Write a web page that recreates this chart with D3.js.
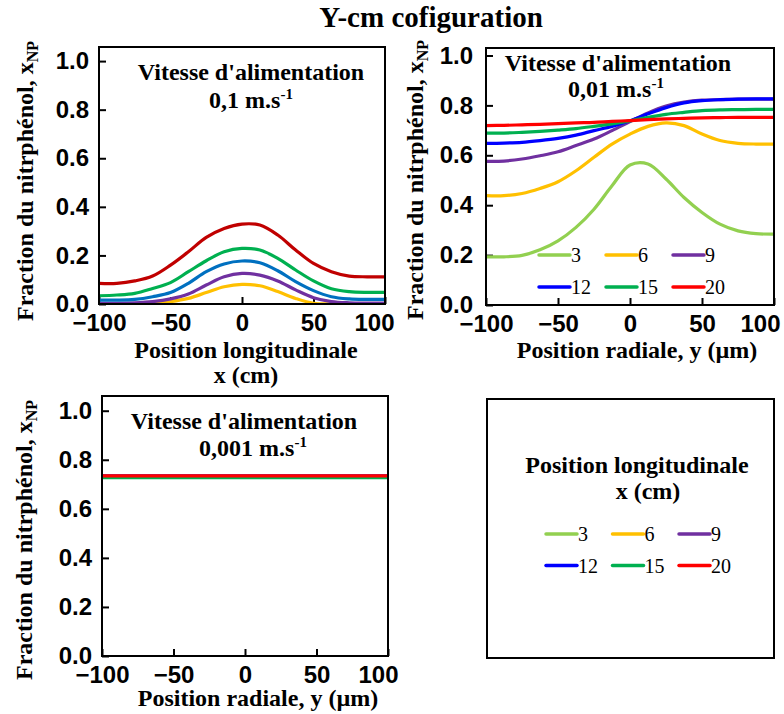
<!DOCTYPE html>
<html>
<head>
<meta charset="utf-8">
<script src="https://cdn.jsdelivr.net/npm/d3@7"></script>
<style>
  html, body { margin: 0; padding: 0; background: #fff; }
  svg { display: block; font-family: "Liberation Serif", "Times New Roman", serif; }
  .tick text { font-weight: bold; font-size: 24px; fill: #000; }
  .tick line { stroke: #000; stroke-width: 2; }
</style>
</head>
<body>
<svg id="chart" width="784" height="714"></svg>
<script>
// ---- data -------------------------------------------------------------
const chartTitle = "Y-cm cofiguration";
const seriesNames = ["3", "6", "9", "12", "15", "20"];
const xTicks = [-100, -50, 0, 50, 100];
const yTicks = [0, 0.2, 0.4, 0.6, 0.8, 1.0];

// sample positions along each profile
const positions = [-100, -87.5, -75, -62.5, -50, -37.5, -25, -12.5, 0,
                   12.5, 25, 37.5, 50, 62.5, 75, 87.5, 100];

// feed velocity 0.1 m/s, longitudinal profile x (cm)
const v01_6  = [0, 0, 0, 0.003, 0.010, 0.023, 0.047, 0.071, 0.081, 0.075, 0.051, 0.023, 0.003, 0, 0, 0, 0];
const v01_9  = [0.003, 0.003, 0.005, 0.010, 0.021, 0.041, 0.078, 0.112, 0.126, 0.119, 0.095, 0.058, 0.026, 0.010, 0.005, 0.004, 0.004];
const v01_12 = [0.016, 0.016, 0.019, 0.030, 0.047, 0.085, 0.133, 0.165, 0.177, 0.170, 0.137, 0.092, 0.055, 0.030, 0.021, 0.019, 0.019];
const v01_15 = [0.034, 0.037, 0.044, 0.064, 0.088, 0.133, 0.178, 0.215, 0.229, 0.222, 0.188, 0.140, 0.095, 0.063, 0.051, 0.048, 0.048];
const v01_20 = [0.085, 0.085, 0.095, 0.115, 0.160, 0.215, 0.274, 0.311, 0.329, 0.325, 0.284, 0.222, 0.167, 0.133, 0.115, 0.112, 0.112];

// feed velocity 0.01 m/s, radial profile y (µm)
const v001_3  = [0.193, 0.193, 0.199, 0.221, 0.257, 0.311, 0.384, 0.478, 0.561, 0.565, 0.505, 0.431, 0.371, 0.324, 0.297, 0.286, 0.284];
const v001_6  = [0.438, 0.438, 0.447, 0.467, 0.494, 0.538, 0.592, 0.645, 0.685, 0.716, 0.730, 0.719, 0.685, 0.659, 0.648, 0.645, 0.645];
const v001_9  = [0.576, 0.577, 0.585, 0.598, 0.614, 0.639, 0.665, 0.699, 0.735, 0.770, 0.797, 0.813, 0.821, 0.823, 0.825, 0.825, 0.825];
const v001_12 = [0.648, 0.649, 0.652, 0.659, 0.668, 0.681, 0.699, 0.716, 0.738, 0.766, 0.791, 0.810, 0.819, 0.823, 0.825, 0.826, 0.826];
const v001_15 = [0.689, 0.689, 0.692, 0.696, 0.701, 0.707, 0.716, 0.726, 0.738, 0.752, 0.764, 0.772, 0.779, 0.782, 0.783, 0.784, 0.784];
const v001_20 = [0.719, 0.720, 0.722, 0.724, 0.727, 0.730, 0.732, 0.736, 0.739, 0.743, 0.746, 0.748, 0.750, 0.751, 0.752, 0.752, 0.752];

// feed velocity 0.001 m/s, radial profile y (µm): flat profiles
const positionsFlat = [-100, -50, 0, 50, 100];
const v0001_3  = [0.733, 0.733, 0.733, 0.733, 0.733];
const v0001_6  = [0.733, 0.733, 0.733, 0.733, 0.733];
const v0001_9  = [0.733, 0.733, 0.733, 0.733, 0.733];
const v0001_12 = [0.733, 0.733, 0.733, 0.733, 0.733];
const v0001_15 = [0.727, 0.727, 0.727, 0.727, 0.727];
const v0001_20 = [0.734, 0.734, 0.734, 0.734, 0.734];

// ---- styling ------------------------------------------------------------
const colorsA = { "6": "#FFC000", "9": "#7030A0", "12": "#0070C0", "15": "#00B050", "20": "#C00000" };
const colorsB = { "3": "#92D050", "6": "#FFC000", "9": "#7030A0", "12": "#0000FF", "15": "#00B050", "20": "#FF0000" };

const svg = d3.select("#chart");

svg.append("text")
  .attr("x", 431).attr("y", 27)
  .attr("text-anchor", "middle")
  .attr("font-weight", "bold").attr("font-size", 29)
  .text(chartTitle);

function drawPanel(cfg) {
  const x = d3.scaleLinear().domain([-100, 100]).range([cfg.left, cfg.right]);
  const y = d3.scaleLinear().domain([0, cfg.yMax]).range([cfg.bottom, cfg.top]);
  const g = svg.append("g");

  const clipId = "clip" + cfg.id;
  g.append("clipPath").attr("id", clipId)
    .append("rect")
    .attr("x", cfg.left).attr("y", cfg.top)
    .attr("width", cfg.right - cfg.left).attr("height", cfg.bottom - cfg.top);

  // axes with inward ticks
  const ax = g.append("g").attr("transform", `translate(0,${cfg.bottom})`)
    .call(d3.axisBottom(x).tickValues(xTicks).tickSizeInner(-7).tickSizeOuter(0).tickPadding(10)
      .tickFormat(d => d < 0 ? "\u2212" + Math.abs(d) : String(d)));
  ax.select(".domain").remove();
  // the last label sits slightly inside the frame edge
  ax.selectAll(".tick text").filter(d => d === 100).attr("dx", cfg.lastLabelShift);
  const ay = g.append("g").attr("transform", `translate(${cfg.left},0)`)
    .call(d3.axisLeft(y).tickValues(yTicks).tickSizeInner(-7).tickSizeOuter(0).tickPadding(cfg.yPad)
      .tickFormat(d3.format(".1f")));
  ay.select(".domain").remove();

  // curves
  const line = d3.line()
    .x(d => x(d[0])).y(d => y(d[1]))
    .curve(d3.curveCatmullRom.alpha(0.5));
  const lines = g.append("g").attr("clip-path", `url(#${clipId})`);
  cfg.series.forEach(s => {
    lines.append("path")
      .datum(cfg.xs.map((p, i) => [p, s.values[i]]))
      .attr("fill", "none")
      .attr("stroke", s.color)
      .attr("stroke-width", 3.2)
      .attr("stroke-linejoin", "round")
      .attr("d", line);
  });

  // frame
  g.append("rect")
    .attr("x", cfg.left).attr("y", cfg.top)
    .attr("width", cfg.right - cfg.left).attr("height", cfg.bottom - cfg.top)
    .attr("fill", "none").attr("stroke", "#000").attr("stroke-width", 2);

  // y title
  const yt = g.append("text")
    .attr("transform", `translate(${cfg.yTitleX},${cfg.yTitleY}) rotate(-90)`)
    .attr("text-anchor", "middle")
    .attr("font-weight", "bold").attr("font-size", 24);
  yt.append("tspan").text("Fraction du nitrphénol, x");
  yt.append("tspan").attr("font-size", 16).attr("dy", 5).text("NP");

  // x title
  cfg.xTitle.forEach((t, i) => {
    g.append("text")
      .attr("x", cfg.xTitleX).attr("y", cfg.xTitleY + i * 25)
      .attr("text-anchor", "middle")
      .attr("font-weight", "bold").attr("font-size", 24)
      .text(t);
  });

  // feed velocity note
  g.append("text")
    .attr("x", cfg.noteX).attr("y", cfg.noteY)
    .attr("text-anchor", "middle")
    .attr("font-weight", "bold").attr("font-size", 24)
    .text("Vitesse d'alimentation");
  const v = g.append("text")
    .attr("x", cfg.noteX2).attr("y", cfg.noteY + cfg.noteGap)
    .attr("text-anchor", "middle")
    .attr("font-weight", "bold").attr("font-size", 24);
  v.append("tspan").text(cfg.speed + " m.s");
  v.append("tspan").attr("font-size", 15).attr("dy", -9).text("-1");

  return { x, y, g };
}

function drawLegend(g, x0, y0, colDx, rowDy, colors) {
  seriesNames.forEach((name, i) => {
    const cx = x0 + (i % 3) * colDx;
    const cy = y0 + Math.floor(i / 3) * rowDy;
    g.append("line")
      .attr("x1", cx).attr("x2", cx + 31)
      .attr("y1", cy).attr("y2", cy)
      .attr("stroke", colors[name]).attr("stroke-width", 3.5)
      .attr("stroke-linecap", "round");
    g.append("text")
      .attr("x", cx + 32).attr("y", cy).attr("dy", "0.35em")
      .attr("font-size", 20)
      .text(name);
  });
}

// panel: 0.1 m/s
drawPanel({
  id: "a", left: 99, right: 385, top: 47, bottom: 304, yMax: 1.058,
  xs: positions, lastLabelShift: -11, yPad: 10,
  series: [
    { values: v01_6,  color: colorsA["6"] },
    { values: v01_9,  color: colorsA["9"] },
    { values: v01_12, color: colorsA["12"] },
    { values: v01_15, color: colorsA["15"] },
    { values: v01_20, color: colorsA["20"] }
  ],
  yTitleX: 33, yTitleY: 181,
  xTitle: ["Position longitudinale", "x (cm)"], xTitleX: 246, xTitleY: 358,
  noteX: 251, noteX2: 251, noteY: 80, noteGap: 28, speed: "0,1"
});

// panel: 0.01 m/s
const pB = drawPanel({
  id: "b", left: 486, right: 774, top: 48, bottom: 305, yMax: 1.03,
  xs: positions, lastLabelShift: -14, yPad: 13,
  series: seriesNames.map((n, i) => ({
    values: [v001_3, v001_6, v001_9, v001_12, v001_15, v001_20][i],
    color: colorsB[n]
  })),
  yTitleX: 423, yTitleY: 180,
  xTitle: ["Position radiale, y (µm)"], xTitleX: 637, xTitleY: 358,
  noteX: 618, noteX2: 616, noteY: 71, noteGap: 26, speed: "0,01"
});
drawLegend(pB.g, 539, 255, 67, 32, colorsB);

// panel: 0.001 m/s
drawPanel({
  id: "c", left: 102, right: 388, top: 396, bottom: 656, yMax: 1.06,
  xs: positionsFlat, lastLabelShift: -10, yPad: 10,
  series: seriesNames.map((n, i) => ({
    values: [v0001_3, v0001_6, v0001_9, v0001_12, v0001_15, v0001_20][i],
    color: colorsB[n]
  })),
  yTitleX: 32, yTitleY: 540,
  xTitle: ["Position radiale, y (µm)"], xTitleX: 258, xTitleY: 706,
  noteX: 244, noteX2: 253, noteY: 429, noteGap: 27, speed: "0,001"
});

// shared legend box
const lg = svg.append("g");
lg.append("rect")
  .attr("x", 487).attr("y", 399).attr("width", 287).attr("height", 259)
  .attr("fill", "none").attr("stroke", "#000").attr("stroke-width", 2);
lg.append("text").attr("x", 637).attr("y", 473)
  .attr("text-anchor", "middle").attr("font-weight", "bold").attr("font-size", 24)
  .text("Position longitudinale");
lg.append("text").attr("x", 648).attr("y", 499)
  .attr("text-anchor", "middle").attr("font-weight", "bold").attr("font-size", 24)
  .text("x (cm)");
drawLegend(lg, 546, 534, 66.5, 31.5, colorsB);
</script>
</body>
</html>
